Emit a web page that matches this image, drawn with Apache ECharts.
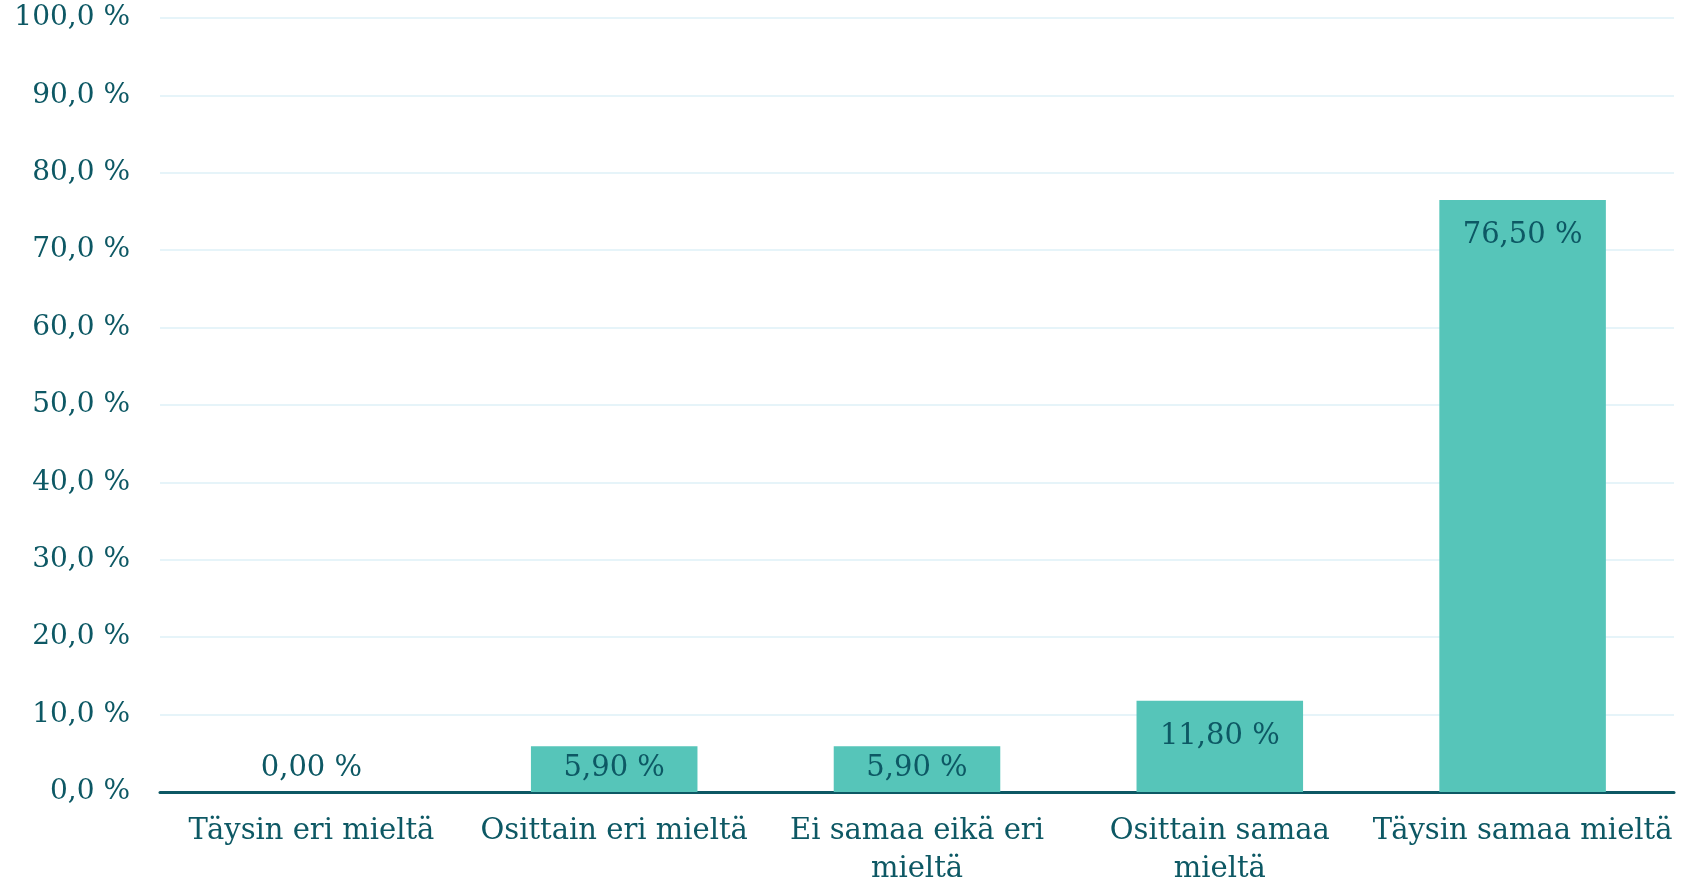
<!DOCTYPE html>
<html>
<head>
<meta charset="utf-8">
<script src="https://cdn.jsdelivr.net/npm/echarts@6/dist/echarts.min.js"></script>
<style>
  html, body { margin: 0; padding: 0; background: #fff; }
  #chart { width: 1682px; height: 888px; }
</style>
</head>
<body>
<div id="chart"></div>
<script>
// Vastausjakauma (%)
const categories = ['Täysin eri mieltä', 'Osittain eri mieltä', 'Ei samaa eikä eri mieltä', 'Osittain samaa mieltä', 'Täysin samaa mieltä'];
const values = [0.0, 5.9, 5.9, 11.8, 76.5];
const yTicks = { min: 0, max: 100, interval: 10 };

const textColor = '#0d5864';
const barColor = '#56c5b9';
const fontFamily = '"DejaVu Serif", Georgia, serif';

const fmtPct = (v, d) => v.toFixed(d).replace('.', ',') + ' %';

// rivitys kuten alkuperäisessä
const wrapLabel = {
    'Ei samaa eikä eri mieltä': 'Ei samaa eikä eri\nmieltä',
    'Osittain samaa mieltä': 'Osittain samaa\nmieltä'
};

const chart = echarts.init(document.getElementById('chart'));

// pienet pylväät: otsikko pylvään alaosaan, muuten yläreunan sisäpuolelle
const seriesData = values.map(v => ({
    value: v,
    label: v < 10
        ? { position: 'insideBottom', distance: 9 }
        : { position: 'insideTop', distance: 21 }
}));

chart.setOption({
    animation: false,
    grid: { left: 160, right: 8, top: 18, bottom: 90, containLabel: false },
    xAxis: {
        type: 'category',
        data: categories,
        axisLine: { lineStyle: { color: textColor, width: 3 } },
        axisTick: { show: false },
        axisLabel: {
            interval: 0,
            color: textColor,
            fontFamily: fontFamily,
            fontSize: 29,
            lineHeight: 38,
            margin: 20,
            formatter: v => wrapLabel[v] || v
        }
    },
    yAxis: {
        type: 'value',
        min: yTicks.min,
        max: yTicks.max,
        interval: yTicks.interval,
        axisLine: { show: false },
        axisTick: { show: false },
        splitLine: { lineStyle: { color: '#e6f4f9', width: 2 } },
        axisLabel: {
            color: textColor,
            fontFamily: fontFamily,
            fontSize: 28,
            margin: 30,
            formatter: v => fmtPct(v, 1)
        }
    },
    series: [{
        type: 'bar',
        data: seriesData,
        barCategoryGap: '45%',
        itemStyle: { color: barColor },
        label: {
            show: true,
            color: textColor,
            fontFamily: fontFamily,
            fontSize: 29,
            formatter: p => fmtPct(p.value, 2)
        }
    }]
});
</script>
</body>
</html>
